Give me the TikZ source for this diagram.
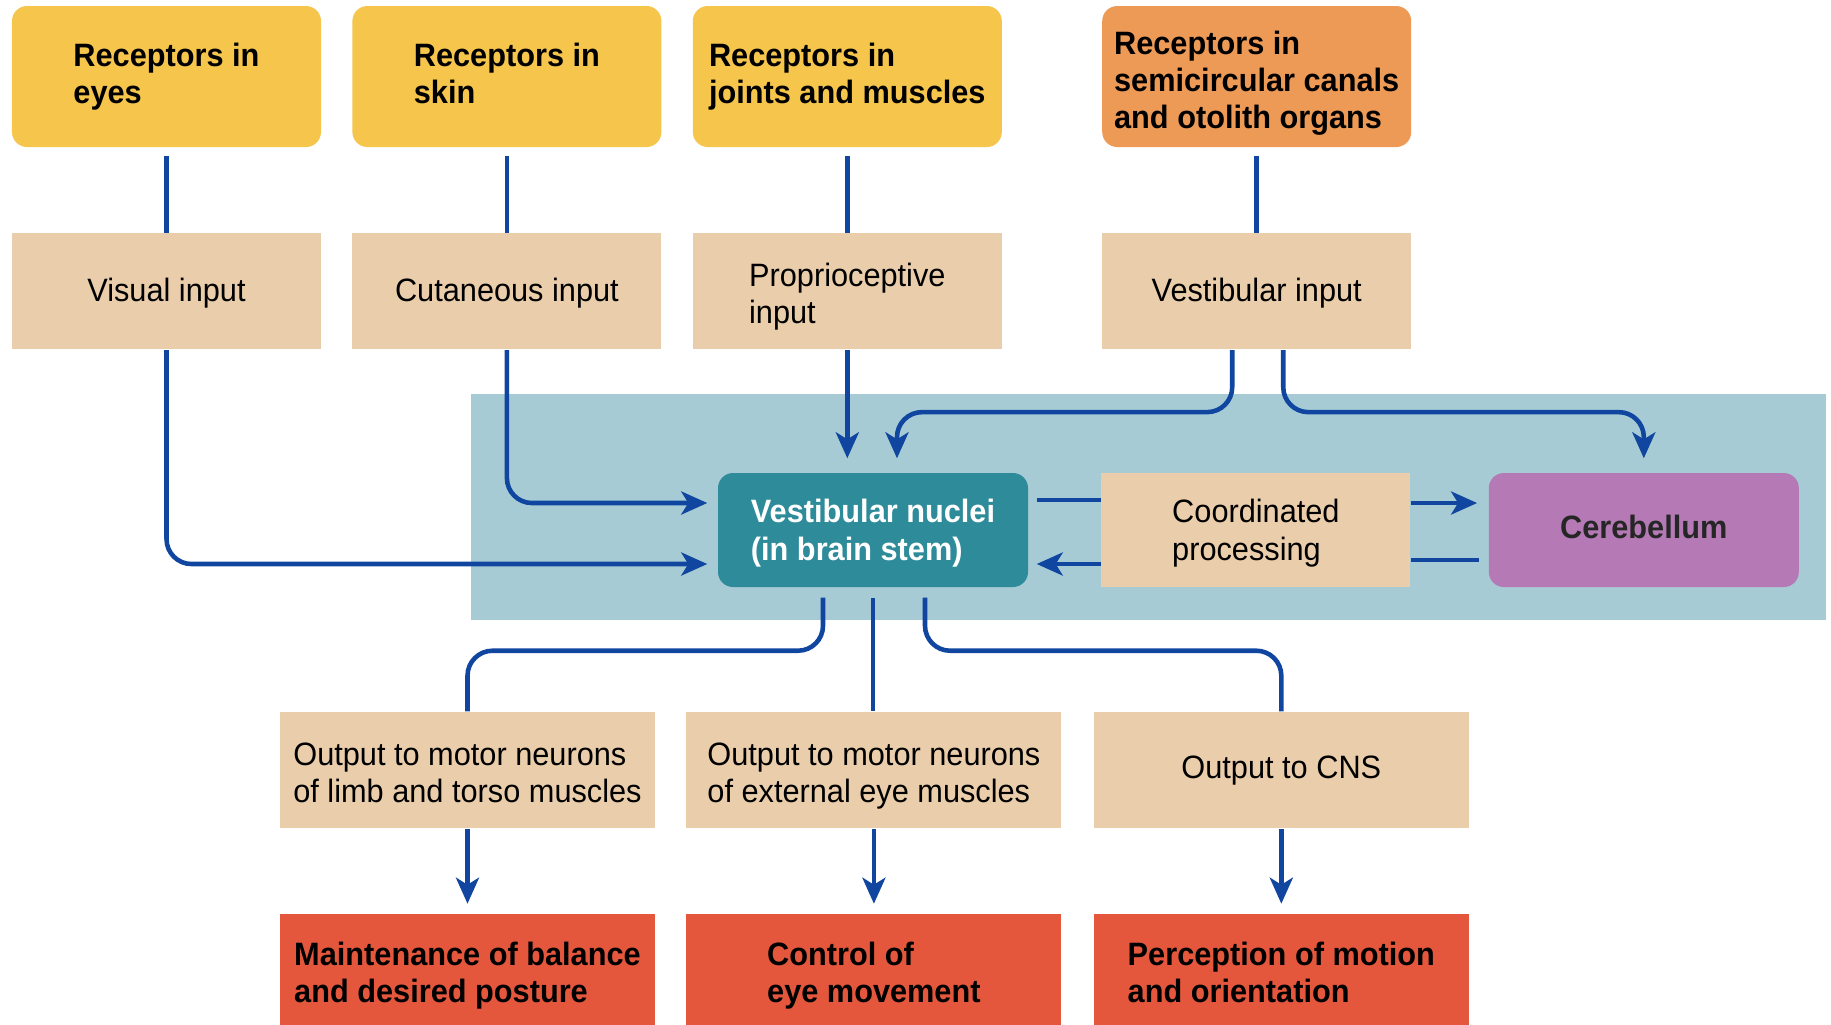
\documentclass[tikz,border=0pt]{standalone}
\usepackage{fontspec}
\setmainfont{Liberation Sans}[FakeStretch=0.95]
\usepackage{tikz}
\usetikzlibrary{arrows.meta,positioning}
\definecolor{ryellow}{HTML}{F5C54C}
\definecolor{rorange}{HTML}{EE9A57}
\definecolor{rtan}{HTML}{EACDAA}
\definecolor{rpanel}{HTML}{A7CBD5}
\definecolor{rteal}{HTML}{2E8B9A}
\definecolor{rpurple}{HTML}{B57AB5}
\definecolor{rred}{HTML}{E4573C}
\definecolor{rline}{HTML}{1046A0}
\newcommand{\boxfont}{\fontsize{9.2}{10.6}\selectfont}

\begin{document}
\begin{tikzpicture}[x=1mm,y=1mm,node distance=8.5mm and 3mm,
  textdrop/.style={execute at begin node={\rule{0pt}{\dimexpr 7.4pt+#1\relax}}},
  tbox/.style={text height=#1,text depth=3.2pt},
  every node/.style={execute at end node=\strut},
  recep/.style={fill=ryellow,rounded corners=1.5mm,minimum width=30.9mm,minimum height=14.1mm,align=left,font=\boxfont\bfseries,tbox=18.6pt},
  inbox/.style={fill=rtan,minimum width=30.9mm,minimum height=11.6mm,align=left,font=\boxfont},
  outbox/.style={inbox,minimum width=37.5mm},
  effect/.style={fill=rred,minimum width=37.5mm,minimum height=12.2mm,align=left,font=\boxfont\bfseries,tbox=18.6pt},
  hub/.style={fill=rteal,text=white,rounded corners=1.5mm,minimum width=31mm,minimum height=11.4mm,align=left,font=\boxfont\bfseries},
  conn/.style={draw=rline,line width=1.3pt,rounded corners=2.5mm},
  arr/.style={conn,-{Stealth[length=2.6mm,width=2.3mm,inset=0.7mm]}}]
\useasboundingbox (0,0) rectangle (183.1,-102.4);
\fill[rpanel] (47.1,-39.4) rectangle (182.6,-62.0);

% receptors and inputs
\node[recep] (eyes) at (16.65,-7.65) {Receptors in\\eyes};
\node[recep,right=of eyes] (skin) {Receptors in\\skin};
\node[recep,right=of skin] (joints) {Receptors in\\joints and muscles};
\node[recep,fill=rorange,tbox=32.9pt,inner ysep=0pt,right=9.9mm of joints] (canals) {Receptors in\\semicircular canals\\and otolith organs};
\node[inbox,textdrop=1.3pt,below=of eyes] (visual) {Visual input};
\node[inbox,textdrop=1.3pt,below=of skin] (cutan) {Cutaneous input};
\node[inbox,tbox=21.6pt,below=of joints] (proprio) {Proprioceptive\\input};
\node[inbox,textdrop=1.3pt,below=of canals] (vestin) {Vestibular input};

% processing
\node[hub,tbox=20.3pt] (vn) at (87.3,-53.0) {Vestibular nuclei\\(in brain stem)};
\node[inbox,minimum height=11.4mm,tbox=20.3pt,right=7.2mm of vn] (coord) {Coordinated\\processing};
\node[hub,fill=rpurple,text=black!85,textdrop=0.6pt,right=7.7mm of coord] (cb) {Cerebellum};

% outputs
\node[outbox,tbox=21.9pt] (limb) at (46.75,-77.0) {Output to motor neurons\\of limb and torso muscles};
\node[outbox,tbox=21.9pt,right=of limb] (eye) {Output to motor neurons\\of external eye muscles};
\node[outbox,textdrop=0.6pt,right=3.1mm of eye] (cns) {Output to CNS};
\node[effect,below=of limb] (balance) {Maintenance of balance\\and desired posture};
\node[effect,below=of eye] (eyemove) {Control of\\eye movement};
\node[effect,below=of cns] (percep) {Perception of motion\\and orientation};

\coordinate (vntop) at ([yshift=1.4mm]vn.north);
\foreach \a/\b in {eyes/visual,skin/cutan,joints/proprio,canals/vestin}
  \draw[conn] ([yshift=-0.8mm]\a.south) -- (\b.north);
\draw[arr] (visual.south) |- ([xshift=-1mm,yshift=-3.4mm]vn.west);
\draw[arr] (cutan.south) |- ([xshift=-1mm,yshift=2.7mm]vn.west);
\draw[arr] (proprio.south) -- (proprio.south |- vntop);
\draw[arr] ([xshift=-2.45mm]vestin.south) -- ++(0,-6.2) -| ([xshift=2.4mm]vntop);
\draw[arr] ([xshift=2.65mm]vestin.south) -- ++(0,-6.2) -| ([yshift=1.4mm]cb.north);

\draw[conn] ([xshift=0.8mm,yshift=3mm]vn.east) -- ([yshift=3mm]coord.west);
\draw[arr] ([yshift=-3.4mm]coord.west) -- ([xshift=0.8mm,yshift=-3.4mm]vn.east);
\draw[arr] ([yshift=2.7mm]coord.east) -- ([xshift=-1.1mm,yshift=2.7mm]cb.west);
\draw[conn] ([xshift=-0.9mm,yshift=-3mm]cb.west) -- ([yshift=-3mm]coord.east);

\draw[conn] ([xshift=-5mm,yshift=-1mm]vn.south) -- ++(0,-5.3) -| (limb.north);
\draw[conn] ([yshift=-1mm]vn.south) -- (vn.south |- eye.north);
\draw[conn] ([xshift=5.2mm,yshift=-1mm]vn.south) -- ++(0,-5.3) -| (cns.north);
\foreach \a/\b in {limb/balance,eye/eyemove,cns/percep}
  \draw[arr] (\a.south) -- ([yshift=1mm]\b.north);
\end{tikzpicture}
\end{document}
